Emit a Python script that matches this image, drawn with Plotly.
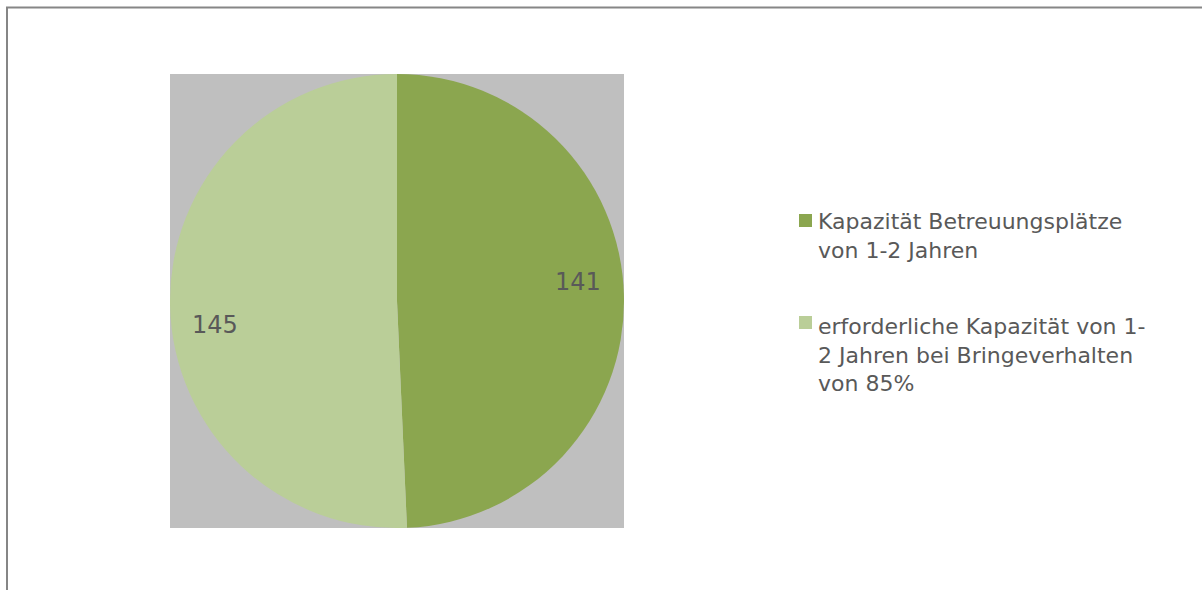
import plotly.graph_objects as go

labels = [
    "Kapazität Betreuungsplätze<br>von 1-2 Jahren",
    "erforderliche Kapazität von 1-<br>2 Jahren bei Bringeverhalten<br>von 85%",
]
values = [141, 145]
colors = ["#8BA64F", "#BACE98"]

W, H = 1202, 590
FONT = "Verdana, 'DejaVu Sans', sans-serif"
TXT = "#595959"

# plot area (square) in pixels
px0, px1, py0, py1 = 170, 624, 74, 528

fig = go.Figure()
fig.add_trace(go.Pie(
    labels=labels,
    values=values,
    marker=dict(colors=colors, line=dict(width=0)),
    sort=False,
    direction="clockwise",
    rotation=0,
    textinfo="none",
    hoverinfo="label+value",
    showlegend=False,
    domain=dict(x=[px0 / W, px1 / W], y=[1 - py1 / H, 1 - py0 / H]),
))

# data labels
label_pos = [(578, 282), (215, 325)]
for v, (x, y) in zip(values, label_pos):
    fig.add_annotation(
        x=x / W, y=1 - y / H, xref="paper", yref="paper",
        xanchor="center", yanchor="middle",
        text=str(v), showarrow=False,
        font=dict(family=FONT, size=24, color=TXT),
    )

# legend (drawn manually to match spacing)
marker_tops = [214, 316]
text_tops = [207, 312]
shapes = [
    dict(type="rect", xref="paper", yref="paper", layer="below",
         x0=px0 / W, x1=px1 / W, y0=1 - py1 / H, y1=1 - py0 / H,
         fillcolor="#BFBFBF", line=dict(width=0)),
    dict(type="rect", xref="paper", yref="paper", layer="above",
         x0=7 / W, x1=1210 / W, y0=-20 / H, y1=1 - 7.5 / H,
         fillcolor="rgba(0,0,0,0)", line=dict(color="#868686", width=2)),
]
for lab, col, mt, tt in zip(labels, colors, marker_tops, text_tops):
    shapes.append(dict(type="rect", xref="paper", yref="paper",
                       x0=799 / W, x1=812 / W, y0=1 - (mt + 13) / H, y1=1 - mt / H,
                       fillcolor=col, line=dict(width=0)))
    fig.add_annotation(
        x=816 / W, y=1 - tt / H, xref="paper", yref="paper",
        xanchor="left", yanchor="top", align="left",
        text=lab, showarrow=False,
        font=dict(family=FONT, size=22, color=TXT),
    )

fig.update_layout(
    width=W, height=H,
    margin=dict(l=0, r=0, t=0, b=0),
    paper_bgcolor="white",
    plot_bgcolor="white",
    showlegend=False,
    shapes=shapes,
)

fig.write_html("out.html", config={"displayModeBar": False},
               post_script="document.body.style.margin='0';")
